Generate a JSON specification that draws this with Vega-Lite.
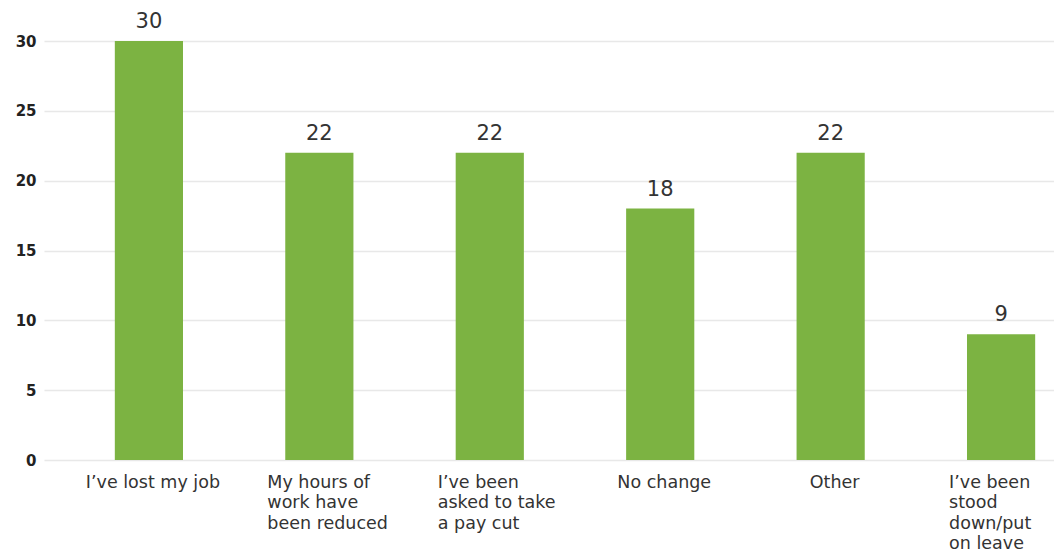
{
  "$schema": "https://vega.github.io/schema/vega-lite/v6.json",
  "autosize": {"type": "none"},
  "padding": {"left": 44, "top": 41, "right": 0, "bottom": 95},
  "width": 1010,
  "height": 419,
  "background": "white",
  "data": {"values": [
    {"category": "I’ve lost my job", "value": 30},
    {"category": "My hours of|work have|been reduced", "value": 22},
    {"category": "I’ve been|asked to take|a pay cut", "value": 22},
    {"category": "No change", "value": 18},
    {"category": "Other", "value": 22},
    {"category": "I’ve been|stood|down/put|on leave", "value": 9}
  ]},
  "config": {
    "view": {"stroke": null},
    "font": "DejaVu Sans"
  },
  "encoding": {
    "x": {
      "field": "category", "type": "nominal", "sort": null,
      "scale": {"paddingInner": 0.6, "paddingOuter": 0.263, "align": 0.79},
      "axis": {
        "title": null, "domain": false, "ticks": false, "labelAngle": 0,
        "labelExpr": "split(datum.label, '|')",
        "labelAlign": {"condition": {"test": "indexof(datum.value, '|') >= 0", "value": "left"}, "value": "center"},
        "labelOffset": {"condition": {"test": "indexof(datum.value, '|') >= 0", "value": -52}, "value": 4},
        "labelBaseline": "top", "labelPadding": 13, "labelLineHeight": 20.5,
        "labelFontSize": 17.5, "labelColor": "#333333", "labelFont": "DejaVu Sans",
        "labelLimit": 300, "labelOverlap": false
      }
    },
    "y": {
      "field": "value", "type": "quantitative",
      "scale": {"domain": [0, 30], "nice": false},
      "axis": {
        "title": null, "domain": false, "ticks": false, "values": [0, 5, 10, 15, 20, 25, 30],
        "grid": true, "gridColor": "#e8e8e8", "gridWidth": 1.5,
        "labelFontSize": 15, "labelFontWeight": "bold", "labelColor": "#222222",
        "labelPadding": 8, "labelFont": "DejaVu Sans"
      }
    }
  },
  "layer": [
    {"mark": {"type": "bar", "color": "#7cb342"}},
    {
      "mark": {"type": "text", "dy": -13, "baseline": "alphabetic", "fontSize": 21, "color": "#333333", "font": "DejaVu Sans"},
      "encoding": {"text": {"field": "value", "type": "quantitative"}}
    }
  ]
}
